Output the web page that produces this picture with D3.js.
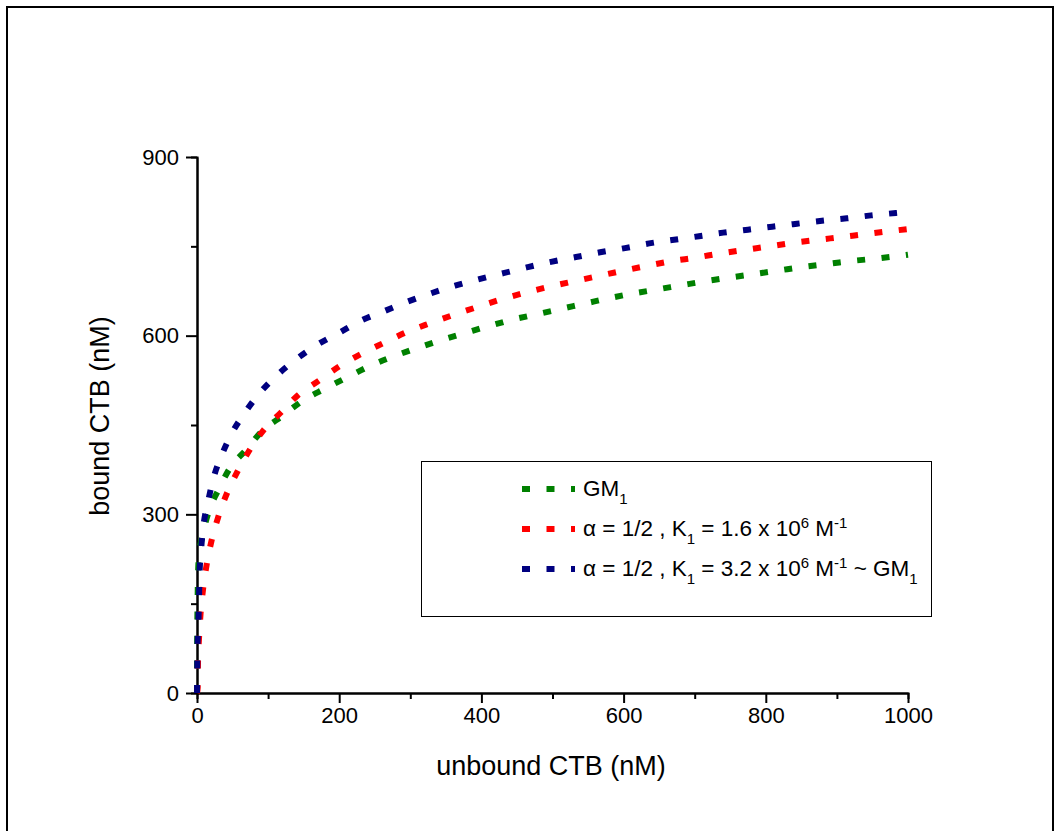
<!DOCTYPE html>
<meta charset="utf-8">
<head>
    <script src="https://d3js.org/d3.v7.min.js"></script>
    <style>
        body { margin: 0; background: #fff; }
        text { font-family: Arial, "Liberation Sans", sans-serif; }
    </style>
</head>
<body>
<div id="chartContainer"></div>
</body>
<script type="text/javascript">

    // values
    var gmX = [0, 0.3, 0.7, 1.2, 2.5, 8, 17, 31, 46, 68, 91, 121, 149, 180, 211, 243, 276, 309, 342, 376, 410, 444,
        478, 512, 546, 580, 614, 649, 683, 718, 752, 787, 821, 856, 891, 925, 960, 1000];
    var gmY = [0, 100, 143, 185, 227, 266, 306, 343, 377, 407, 439, 466, 491, 511, 530, 549, 565, 579, 592, 604, 616, 627,
        636, 645, 654, 663, 671, 678, 685, 692, 698, 704, 710, 716, 721, 726, 730, 736];

    var halfX = [0, 1, 1.4, 2.8, 5, 8.5, 13.5, 20.5, 30, 42, 57, 74, 94, 118, 142, 172, 201, 232, 263, 295, 328, 361,
        394, 428, 461, 495, 529, 564, 599, 632, 667, 701, 736, 770, 805, 839, 874, 909, 944, 978, 1000];
    var halfY = [0, 9, 50, 91, 133, 174, 215, 256, 296, 335, 372, 408, 442, 471, 500, 525, 549, 570, 588, 606, 621, 635,
        648, 661, 672, 682, 691, 700, 709, 717, 725, 731, 738, 744, 750, 756, 761, 766, 771, 776, 779];

    var doubleX = [0, 0.3, 0.6, 1.9, 2.8, 3.5, 5.6, 9, 15.5, 23, 35, 49, 67, 87, 112, 139, 168, 200, 232, 263, 296, 329,
        363, 397, 431, 465, 498, 533, 567, 602, 636, 671, 706, 740, 775, 809, 844, 879, 914, 948, 983, 1000];
    var doubleY = [0, 30, 72, 114, 156, 197, 238, 280, 321, 360, 400, 436, 470, 502, 533, 560, 584, 605, 626, 641, 657, 671,
        684, 695, 705, 715, 724, 732, 740, 747, 755, 761, 767, 773, 778, 783, 788, 793, 797, 802, 806, 808];

    var xMajor = [0, 200, 400, 600, 800, 1000];
    var xMinor = [100, 300, 500, 700, 900];
    var yMajor = [0, 300, 600, 900];
    var yMinor = [150, 450, 750];

    var colors = ["#008000", "#ff0000", "#000080"];

    var width = 1054, height = 831;
    var plotLeft = 197, plotTop = 157, plotRight = 908, plotBottom = 693;

    var svg = d3.select("#chartContainer").append("svg")
        .attr("width", width)
        .attr("height", height);

    // outer frame (runs off the right and bottom of the picture)
    svg.append("rect")
        .attr("x", 7).attr("y", 7)
        .attr("width", 1046).attr("height", 900)
        .attr("fill", "none")
        .attr("stroke", "#000")
        .attr("stroke-width", 2);

    var x = d3.scaleLinear().domain([0, 1000]).range([plotLeft, plotRight]);
    var y = d3.scaleLinear().domain([0, 900]).range([plotBottom, plotTop]);

    // minor ticks first, then the major axis on top
    svg.append("g")
        .attr("transform", "translate(0," + plotBottom + ")")
        .call(d3.axisBottom(x).tickValues(xMinor).tickSize(6).tickFormat(""));
    svg.append("g")
        .attr("transform", "translate(0," + plotBottom + ")")
        .call(d3.axisBottom(x).tickValues(xMajor).tickSize(10).tickSizeOuter(0)
            .tickPadding(4).tickFormat(d3.format("d")));

    svg.append("g")
        .attr("transform", "translate(" + plotLeft + ",0)")
        .call(d3.axisLeft(y).tickValues(yMinor).tickSize(6).tickFormat(""));
    svg.append("g")
        .attr("transform", "translate(" + plotLeft + ",0)")
        .call(d3.axisLeft(y).tickValues(yMajor).tickSize(11).tickSizeOuter(0)
            .tickPadding(7).tickFormat(d3.format("d")));

    svg.selectAll(".domain").attr("stroke", "#000").attr("stroke-width", 2);
    svg.selectAll(".tick line").attr("stroke", "#000").attr("stroke-width", 2);
    svg.selectAll(".tick text")
        .style("font-size", "22px")
        .style("font-family", "Arial, 'Liberation Sans', sans-serif")
        .attr("fill", "#000");

    // axis titles
    svg.append("text")
        .attr("x", 551)
        .attr("y", 775)
        .attr("text-anchor", "middle")
        .style("font-size", "27px")
        .text("unbound CTB (nM)");

    svg.append("text")
        .attr("transform", "translate(109,416) rotate(-90)")
        .attr("text-anchor", "middle")
        .style("font-size", "27px")
        .text("bound CTB (nM)");

    // curves
    var line = d3.line()
        .x(function (d) { return x(d[0]); })
        .y(function (d) { return y(d[1]); })
        .curve(d3.curveMonotoneX);

    var series = [d3.zip(gmX, gmY), d3.zip(halfX, halfY), d3.zip(doubleX, doubleY)];

    svg.selectAll(".curve")
        .data(series)
        .enter().append("path")
        .attr("class", "curve")
        .attr("d", line)
        .attr("fill", "none")
        .attr("stroke", function (d, i) { return colors[i]; })
        .attr("stroke-width", 6)
        .attr("stroke-dasharray", "8,16.5");

    // legend
    var lg = svg.append("g");
    lg.append("rect")
        .attr("x", 421.5).attr("y", 461.5)
        .attr("width", 510).attr("height", 155)
        .attr("fill", "#fff")
        .attr("stroke", "#000")
        .attr("stroke-width", 1);

    var rowBase = [496, 536, 576];
    rowBase.forEach(function (b, i) {
        lg.append("line")
            .attr("x1", 522).attr("x2", 575)
            .attr("y1", b - 7).attr("y2", b - 7)
            .attr("stroke", colors[i])
            .attr("stroke-width", 6)
            .attr("stroke-dasharray", "8,16.5");
    });

    function part(t, s, size, dy) {
        t.append("tspan").attr("dy", dy).style("font-size", size + "px").text(s);
    }

    var t1 = lg.append("text").attr("x", 583).attr("y", rowBase[0]);
    part(t1, "GM", 22.5, 0);
    part(t1, "1", 15, 8);

    function alphaRow(b, k, tail) {
        var t = lg.append("text").attr("x", 583).attr("y", b);
        part(t, "\u03b1 = 1/2 , K", 22.5, 0);
        part(t, "1", 15, 8);
        part(t, " = " + k + " x 10", 22.5, -8);
        part(t, "6", 15, -8);
        part(t, " M", 22.5, 8);
        part(t, "-1", 15, -8);
        if (tail) {
            part(t, " ~ GM", 22.5, 8);
            part(t, "1", 15, 8);
        }
    }
    alphaRow(rowBase[1], "1.6", false);
    alphaRow(rowBase[2], "3.2", true);

</script>
</html>
